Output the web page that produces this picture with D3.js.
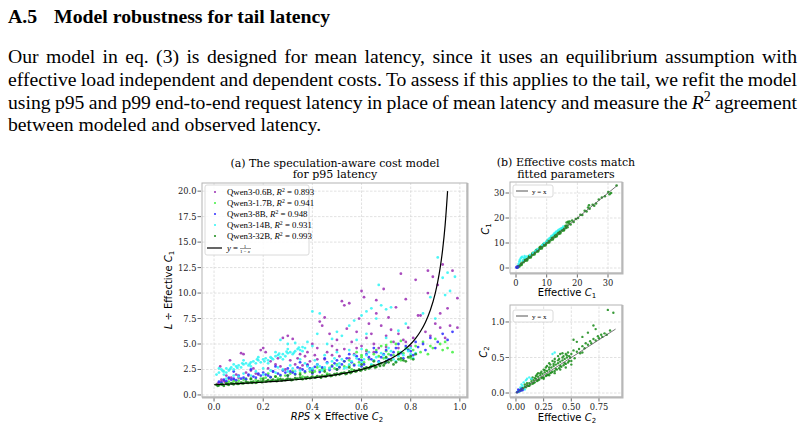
<!DOCTYPE html>
<html>
<head>
<meta charset="utf-8">
<script src="https://cdn.jsdelivr.net/npm/d3@7"></script>
<style>
  body { margin: 0; background: #fff; }
  svg { display: block; }
</style>
</head>
<body>
<svg id="page" width="804" height="427"></svg>
<script>
// ---- text of the page ----
const heading = ["A.5", "Model robustness for tail latency"];
const bodyLines = [
  "Our model in eq. (3) is designed for mean latency, since it uses an equilibrium assumption with",
  "effective load independent and dependent costs. To assess if this applies to the tail, we refit the model",
  "using p95 and p99 end-to-end request latency in place of mean latency and measure the ",
  "between modeled and observed latency."
];

// ---- panel (a): L / effective C1 vs RPS x effective C2 ----
const seriesNames = ["Qwen3-0.6B", "Qwen3-1.7B", "Qwen3-8B", "Qwen3-14B", "Qwen3-32B"];
const seriesR2 = ["0.893", "0.941", "0.948", "0.931", "0.993"];
const seriesColors = ["#9a2db3", "#3ff03f", "#2b2bff", "#2ef4f4", "#168a16"];

const q06 = [[0.02,1.2],[0.025,2.8],[0.03,1.5],[0.04,1.4],[0.05,1.9],[0.065,3.4],[0.07,1.7],[0.09,2.0],[0.11,4.1],
  [0.12,4.0],[0.13,2.2],[0.15,2.4],[0.17,2.1],[0.19,4.4],[0.2,4.6],[0.21,4.2],[0.22,2.6],[0.24,2.3],[0.25,3.0],
  [0.27,2.8],[0.28,5.6],[0.3,5.8],[0.31,3.4],[0.32,5.5],[0.33,3.0],[0.34,3.6],[0.35,4.0],[0.36,2.9],[0.37,3.8],
  [0.38,4.2],[0.39,3.3],[0.4,5.0],[0.41,3.9],[0.42,4.6],[0.43,7.2],[0.44,6.8],[0.45,3.5],[0.46,4.2],[0.47,6.0],
  [0.48,4.8],[0.5,5.4],[0.51,3.8],[0.52,9.2],[0.53,4.5],[0.54,6.5],[0.55,9.0],[0.56,5.2],[0.57,4.0],[0.58,6.2],
  [0.59,7.5],[0.6,10.2],[0.6,4.8],[0.61,9.6],[0.62,5.6],[0.63,7.0],[0.64,6.0],[0.65,5.0],[0.66,8.0],[0.67,4.6],
  [0.68,6.8],[0.69,10.4],[0.7,5.8],[0.71,7.6],[0.72,6.4],[0.73,5.2],[0.74,8.6],[0.75,6.0],[0.76,11.9],[0.77,5.4],
  [0.78,9.4],[0.79,6.6],[0.8,4.8],[0.81,5.6],[0.82,11.3],[0.83,7.8],[0.84,7.8],[0.87,12.2],[0.86,6.2],[0.87,10.0],
  [0.88,5.8],[0.89,11.6],[0.9,7.0],[0.91,10.8],[0.92,6.6],[0.93,12.8],[0.94,5.6],[0.95,8.5],[0.96,6.8],[0.97,12.2],
  [0.99,9.5],[0.99,6.6],[0.92,8.0],[0.66,9.3],[0.53,8.8],[0.45,7.6],[0.35,2.6],[0.55,3.6],[0.65,4.2],[0.75,4.6],
  [0.015,1.1],[0.03,1.3],[0.045,1.25],[0.06,1.6],[0.08,1.5],[0.1,1.7],[0.14,1.9],[0.16,2.6],[0.18,2.0],[0.23,3.3],
  [0.26,3.6],[0.29,2.5],[0.38,3.0],[0.42,3.5],[0.48,3.9],[0.5,4.4],[0.58,4.6],[0.62,4.3],[0.7,4.7],[0.78,5.2]];
const q17 = [[0.03,1.1],[0.06,1.3],[0.1,1.4],[0.13,1.6],[0.17,1.5],[0.21,1.7],[0.25,1.8],[0.29,1.9],[0.33,2.0],
  [0.37,2.2],[0.41,2.3],[0.45,2.5],[0.49,2.6],[0.53,2.8],[0.57,3.0],[0.61,3.2],[0.65,3.4],[0.69,3.6],[0.73,3.9],
  [0.77,4.1],[0.81,4.4],[0.5,3.0],[0.55,3.4],[0.6,3.7],[0.65,4.0],[0.7,4.3],[0.72,5.2],[0.74,5.0],[0.68,4.8],
  [0.62,4.4],[0.58,4.2],[0.85,5.2],[0.88,4.8],[0.9,5.5],[0.93,4.4],[0.95,4.6],[0.94,5.2],[0.84,4.2],[0.87,4.0],
  [0.78,4.6],[0.8,3.6],[0.76,3.4],[0.56,2.5],[0.46,2.1],[0.36,1.8],[0.26,1.6],[0.64,2.9],[0.42,2.7],[0.32,2.3],
  [0.22,2.1],
  [0.05,1.2],[0.08,1.35],[0.12,1.5],[0.15,1.55],[0.19,1.6],[0.23,1.75],[0.27,1.85],[0.31,2.1],[0.35,2.15],[0.39,2.3],
  [0.43,2.4],[0.47,2.65],[0.51,2.75],[0.55,2.9],[0.59,3.2],[0.63,3.5],[0.67,3.8],[0.71,4.0],[0.75,4.2],[0.79,4.5],
  [0.82,4.8],[0.66,4.4],[0.7,4.9],[0.76,5.3],[0.6,3.9],[0.53,3.3],[0.48,2.9],[0.44,2.6],[0.4,2.5],[0.97,4.2],
  [0.92,5.0],[0.89,4.6]];
const q8 = [[0.02,1.3],[0.04,1.5],[0.06,1.7],[0.08,1.6],[0.1,1.9],[0.12,1.7],[0.14,2.0],[0.16,1.8],[0.18,2.1],
  [0.2,2.2],[0.22,1.9],[0.24,2.3],[0.26,2.1],[0.28,2.4],[0.3,2.6],[0.32,2.2],[0.34,2.7],[0.36,2.5],[0.38,2.9],
  [0.4,2.4],[0.42,3.0],[0.44,2.7],[0.46,3.2],[0.48,2.8],[0.5,3.4],[0.52,3.0],[0.54,3.6],[0.56,3.2],[0.58,3.8],
  [0.6,3.4],[0.62,4.0],[0.64,3.5],[0.66,4.2],[0.68,3.7],[0.7,4.4],[0.72,3.9],[0.74,4.6],[0.76,4.1],[0.78,4.8],
  [0.8,4.3],[0.82,5.2],[0.85,5.0],[0.88,5.6],[0.9,4.6],[0.93,6.0],[0.95,5.4],[0.97,6.2],[0.08,2.3],[0.15,2.5],
  [0.25,2.8],[0.35,3.2],[0.45,3.6],[0.55,4.0],[0.65,4.6],[0.75,5.0],[0.7,3.2],[0.6,2.8],[0.5,2.5],[0.4,2.1],[0.3,1.9],
  [0.03,1.2],[0.05,1.35],[0.07,1.5],[0.09,1.45],[0.11,1.6],[0.13,1.55],[0.17,1.7],[0.19,1.9],[0.21,2.0],[0.23,1.75],
  [0.27,1.95],[0.29,2.2],[0.31,2.3],[0.33,2.05],[0.37,2.3],[0.39,2.6],[0.41,2.75],[0.43,2.25],[0.47,2.45],[0.49,3.1],
  [0.51,2.7],[0.53,3.3],[0.57,2.9],[0.59,3.5],[0.61,3.0],[0.63,3.7],[0.67,3.3],[0.69,4.0],[0.71,3.5],[0.73,4.2],
  [0.77,3.6],[0.79,4.4],[0.81,3.9],[0.83,4.7],[0.86,4.4],[0.91,5.2]];
const q14 = [[0.02,2.2],[0.03,2.5],[0.04,2.3],[0.05,2.6],[0.06,2.4],[0.07,2.7],[0.08,2.5],[0.09,2.8],[0.10,2.9],
  [0.11,2.7],[0.12,3.0],[0.13,3.1],[0.14,2.9],[0.15,3.2],[0.16,3.3],[0.17,3.1],[0.18,3.4],[0.19,3.2],[0.20,3.5],
  [0.21,3.6],[0.22,3.4],[0.23,3.7],[0.24,3.5],[0.25,3.8],[0.26,3.9],[0.27,3.7],[0.28,4.0],[0.29,3.8],[0.30,4.1],
  [0.31,4.2],[0.32,4.0],[0.33,4.3],[0.34,4.5],[0.35,4.4],[0.36,4.7],[0.37,4.6],[0.36,4.3],[0.12,3.4],[0.08,3.0],
  [0.18,3.7],[0.25,4.2],[0.30,4.5],[0.15,2.8],[0.22,3.1],[0.28,3.5],[0.05,2.2],
  [0.035,2.35],[0.065,2.55],[0.095,2.65],[0.115,3.1],[0.145,3.05],[0.175,3.5],[0.205,3.3],[0.235,3.6],[0.265,4.05],
  [0.295,4.25],[0.325,4.15],[0.345,4.65],[0.01,2.0],[0.02,2.6],[0.04,2.0],
  [0.05,1.6],[0.1,1.8],[0.15,1.9],[0.2,2.0],[0.25,2.2],[0.3,2.3],[0.35,2.4],[0.4,2.6],[0.45,2.7],[0.5,2.9],
  [0.55,3.0],[0.6,3.2],[0.65,3.4],[0.7,3.6],[0.75,3.8],[0.8,4.0],[0.42,3.0],[0.48,3.3],[0.52,3.5],[0.58,3.6],
  [0.62,3.9],[0.68,4.1],[0.72,4.3],[0.78,4.5],[0.44,2.4],[0.54,2.7],[0.64,3.0],[0.74,3.3],[0.38,2.8],[0.46,3.1],
  [0.56,3.3],[0.66,3.7],[0.76,4.2],[0.81,3.6],[0.32,2.6],[0.28,2.5],
  [0.31,2.9],[0.33,2.3],[0.37,3.1],[0.39,2.5],[0.41,3.4],[0.43,2.8],[0.47,2.6],[0.49,3.6],[0.51,3.1],[0.53,2.6],
  [0.57,3.9],[0.59,2.9],[0.61,3.5],[0.63,4.2],[0.67,3.2],[0.69,3.9],[0.71,4.6],[0.73,3.5],[0.77,3.9],[0.79,4.3],
  [0.8,4.6],[0.82,4.1],[0.2,2.6],[0.17,2.3],[0.12,2.1],[0.08,1.9],[0.23,2.4],[0.26,2.7],[0.35,3.5],[0.45,3.9],
  [0.5,4.2],[0.55,4.4],[0.6,4.5],
  [0.38,5.2],[0.42,6.0],[0.43,8.0],[0.40,8.2],[0.48,5.5],[0.5,6.2],[0.52,5.8],[0.55,6.8],[0.57,7.3],[0.6,7.8],
  [0.62,8.2],[0.64,8.5],[0.66,7.5],[0.68,8.8],[0.7,8.4],[0.72,8.6],[0.67,10.8],[0.58,5.4],[0.62,6.0],[0.7,5.6],
  [0.75,6.3],[0.78,7.0],[0.4,4.8],[0.46,5.0],[0.88,9.6],[0.91,13.5],[0.93,11.5],[0.95,12.0],[0.98,11.6],[0.96,10.2],
  [0.94,9.8],[0.85,8.0],[0.27,5.4],[0.33,5.1],[0.3,5.0],[0.9,7.5]];
const q32 = [[0.01,1.0],[0.02,0.95],[0.03,1.05],[0.04,0.9],[0.05,1.1],[0.06,1.0],[0.07,1.15],[0.08,1.05],[0.09,1.2],
  [0.10,1.1],[0.11,1.2],[0.12,1.15],[0.13,1.3],[0.14,1.2],[0.15,1.25],[0.16,1.3],[0.17,1.2],[0.18,1.35],[0.19,1.3],
  [0.20,1.4],[0.21,1.3],[0.22,1.45],[0.23,1.35],[0.24,1.5],[0.25,1.4],[0.26,1.45],[0.27,1.55],[0.28,1.5],[0.29,1.45],
  [0.30,1.6],[0.31,1.55],[0.32,1.5],[0.33,1.65],[0.34,1.6],[0.35,1.7],[0.36,1.55],[0.37,1.7],[0.38,1.75],[0.39,1.65],
  [0.40,1.8],[0.41,1.7],[0.42,1.85],[0.43,1.8],[0.44,1.9],[0.45,1.85],[0.46,1.95],[0.47,2.0],[0.48,1.9],[0.49,2.05],
  [0.50,2.1],[0.51,2.0],[0.52,2.15],[0.53,2.2],[0.54,2.1],[0.55,2.3],[0.56,2.25],[0.57,2.4],[0.58,2.35],[0.59,2.5],
  [0.60,2.45],[0.61,2.6],[0.62,2.7],[0.63,2.6],[0.64,2.8],[0.65,2.9],[0.66,2.75],[0.67,3.0],[0.68,3.1],[0.69,2.9],
  [0.70,3.3],[0.72,3.4],[0.74,3.2],[0.76,3.6],[0.78,3.3],[0.80,3.8],[0.82,4.0],
  [0.15,1.6],[0.25,1.8],[0.35,2.0],[0.45,2.3],[0.55,2.7],[0.65,3.3],[0.75,4.0],[0.5,2.5],[0.3,1.9],[0.2,1.6],
  [0.4,2.2],[0.6,3.0],[0.7,3.7],
  [0.015,0.9],[0.035,1.0],[0.055,1.05],[0.075,1.1],[0.095,1.1],[0.115,1.15],[0.135,1.2],[0.155,1.2],[0.175,1.25],
  [0.195,1.25],[0.215,1.35],[0.235,1.4],[0.255,1.35],[0.275,1.4],[0.295,1.5],[0.315,1.45],[0.335,1.55],[0.355,1.6],
  [0.375,1.6],[0.395,1.7],[0.415,1.75],[0.435,1.7],[0.455,1.8],[0.475,1.85],[0.495,1.95],[0.515,2.1],[0.535,2.05],
  [0.555,2.15],[0.575,2.3],[0.595,2.4],[0.615,2.5],[0.635,2.7],[0.655,2.7],[0.675,2.85],[0.695,3.1],[0.71,3.2],
  [0.73,3.0],[0.75,3.5],[0.77,3.4],[0.79,3.7],[0.81,3.5]];
const panelA = [q06, q17, q8, q14, q32];
// model curve y = 1/(1-x), sampled on these x
const curveX = [0, 0.1, 0.2, 0.3, 0.4, 0.5, 0.55, 0.6, 0.65, 0.7, 0.74, 0.78, 0.8, 0.82, 0.84, 0.86, 0.88, 0.9, 0.91, 0.92, 0.93, 0.94, 0.95];

// ---- panel (b): fitted vs effective costs ----
const c1Green = [[0.5,0.6],[0.8,0.7],[1.0,1.2],[1.3,1.1],[1.6,1.8],[1.9,1.7],[2.2,2.4],[2.5,2.3],[2.8,3.0],[3.1,2.9],
  [3.4,3.6],[3.7,3.5],[4.0,4.3],[4.3,4.1],[4.6,4.8],[4.9,4.7],[5.2,5.5],[5.5,5.3],[5.8,6.1],[6.1,5.9],[6.4,6.7],
  [6.7,6.5],[7.0,7.3],[7.3,7.1],[7.6,7.9],[7.9,7.7],[8.2,8.6],[8.5,8.3],[8.8,9.2],[9.1,8.9],[9.4,9.8],[9.7,9.5],
  [10.0,10.4],[10.3,10.1],[10.6,11.0],[10.9,10.7],[11.2,11.6],[11.5,11.2],[11.8,12.3],[12.1,11.9],[12.4,12.9],
  [12.7,12.4],[13.0,13.5],[13.3,13.0],[13.6,14.1],[13.9,13.6],[14.2,14.7],[14.5,14.3],[14.8,15.3],[15.1,14.9],
  [15.4,15.9],[15.7,15.4],[16.0,16.6],[16.3,16.0],[16.7,17.0],[17.2,17.8],[17.5,18.6],[17.8,17.4],[18.3,19.0],
  [18.8,18.4],[19.5,19.6],[20.2,20.0],[21.0,21.3],[21.6,21.2],[22.4,22.9],[23.0,22.6],[23.5,24.2],[24.0,23.7],
  [25.0,25.3],[26.1,25.8],[27.0,27.4],[28.0,28.2],[29.0,28.7],[30.1,30.4],[31.0,30.0],[32.8,33.0],[30.5,29.5],
  [16.5,18.2],[17.0,18.5],[23.8,25.1],[25.5,24.9],
  [0.6,0.2],[1.1,0.6],[1.8,1.2],[2.4,2.9],[3.0,3.5],[3.6,3.0],[4.2,4.8],[4.8,4.2],[5.4,6.0],[6.0,5.4],[6.6,7.2],
  [7.2,6.6],[7.8,8.4],[8.4,7.8],[9.0,9.6],[9.6,9.0],[10.2,10.9],[10.8,10.2],[11.4,12.1],[12.0,11.4],[12.6,13.3],
  [13.2,12.6],[13.8,14.5],[14.4,13.8],[15.0,15.7],[15.6,15.0],[16.2,16.9],[16.8,16.3]];
const c1Cyan = [[1.0,2.5],[1.5,3.8],[2.0,4.5],[2.5,4.0],[1.2,3.2],[3.0,4.2],[3.5,4.6],[4.5,5.2],[5.5,6.0],[7.0,7.6],
  [8.5,9.2],[10.0,10.8],[11.0,12.0],[12.0,13.2],[12.8,14.0],[13.5,14.8],[14.2,15.5],[15.0,16.0],[13.0,14.5],
  [14.6,15.8],[11.5,12.8],[9.2,10.0],[6.3,6.9],[0.8,1.6],[2.2,3.0],[1.7,4.2],[2.8,4.8],[1.3,2.8],[12.4,13.8],
  [13.8,15.2],[15.4,16.6],[10.6,11.6]];
const c1Blue = [[0.1,0.2],[0.3,0.1],[0.5,0.4],[0.2,0.5],[0.7,0.6],[0.4,0.3]];

const c2Green = [[0.01,0.01],[0.02,0.03],[0.03,0.02],[0.04,0.05],[0.05,0.04],[0.06,0.07],[0.07,0.06],[0.08,0.09],
  [0.09,0.08],[0.10,0.11],[0.11,0.10],[0.12,0.14],[0.13,0.12],[0.14,0.16],[0.15,0.13],[0.16,0.18],[0.17,0.15],
  [0.18,0.20],[0.19,0.17],[0.20,0.23],[0.21,0.19],[0.22,0.25],[0.23,0.21],[0.24,0.27],[0.25,0.22],[0.26,0.29],
  [0.27,0.24],[0.28,0.31],[0.29,0.26],[0.30,0.33],[0.31,0.28],[0.32,0.36],[0.33,0.30],[0.34,0.38],[0.35,0.31],
  [0.36,0.40],[0.37,0.33],[0.38,0.42],[0.39,0.35],[0.40,0.44],[0.41,0.37],[0.42,0.46],[0.43,0.39],[0.44,0.48],
  [0.45,0.41],[0.46,0.50],[0.47,0.43],[0.48,0.45],
  [0.15,0.22],[0.2,0.28],[0.25,0.33],[0.28,0.38],[0.3,0.42],[0.33,0.45],[0.35,0.48],[0.38,0.52],[0.4,0.55],
  [0.42,0.56],[0.45,0.55],[0.48,0.52],[0.5,0.55],[0.52,0.6],[0.55,0.58],[0.57,0.62],[0.6,0.66],[0.62,0.63],
  [0.63,0.7],[0.65,0.68],[0.67,0.73],[0.68,0.7],[0.7,0.76],[0.72,0.74],[0.74,0.8],[0.75,0.77],[0.77,0.82],
  [0.78,0.79],[0.8,0.84],[0.82,0.82],[0.85,0.88],[0.83,1.17],[0.88,1.13],[0.52,0.75],[0.55,0.72],[0.6,0.79],
  [0.65,0.85],[0.7,0.95],[0.72,0.9],[0.5,0.45],[0.53,0.49],[0.58,0.56],[0.6,0.57],
  [0.3,0.25],[0.35,0.28],[0.4,0.33],[0.45,0.36],[0.5,0.4],[0.25,0.2],
  [0.05,0.07],[0.08,0.12],[0.1,0.14],[0.12,0.1],[0.14,0.19],[0.16,0.14],[0.18,0.24],[0.2,0.18],[0.22,0.28],
  [0.24,0.22],[0.26,0.32],[0.28,0.25],[0.3,0.36],[0.32,0.29],[0.34,0.41],[0.36,0.34],[0.38,0.46],[0.4,0.38],
  [0.42,0.5],[0.44,0.42],[0.46,0.53],[0.27,0.36],[0.23,0.3],[0.19,0.26],[0.17,0.21],[0.31,0.4],[0.35,0.44],
  [0.39,0.48],[0.43,0.52],[0.47,0.57],[0.49,0.5]];
const c2Cyan = [[0.02,0.04],[0.04,0.08],[0.05,0.12],[0.07,0.15],[0.06,0.1],[0.09,0.18],[0.1,0.2],[0.12,0.22],
  [0.08,0.05],[0.03,0.02],[0.35,0.57],[0.33,0.55],[0.14,0.2]];
const c2Blue = [[0.01,0.01],[0.02,0.02],[0.03,0.04],[0.04,0.03],[0.05,0.06],[0.02,0.05],[0.06,0.04]];

const ticksA_x = [0, 0.2, 0.4, 0.6, 0.8, 1.0];
const ticksA_y = [0, 2.5, 5, 7.5, 10, 12.5, 15, 17.5, 20];
const ticksB1 = [0, 10, 20, 30];
const ticksB2_x = [0, 0.25, 0.5, 0.75];
const ticksB2_y = [0, 0.5, 1.0];

const svg = d3.select("#page");
svg.append("rect").attr("width", 804).attr("height", 427).attr("fill", "#fff");

const times = "'Liberation Serif', 'Times New Roman', serif";
const dserif = "'DejaVu Serif', serif";
const dsans = "'DejaVu Sans', sans-serif";

// heading
svg.append("text").attr("x", 8).attr("y", 23)
  .attr("font-family", times).attr("font-weight", "bold").attr("font-size", 19.8)
  .text(heading[0]);
svg.append("text").attr("x", 54).attr("y", 23)
  .attr("font-family", times).attr("font-weight", "bold").attr("font-size", 19.8)
  .text(heading[1]);

// body paragraph, justified
const lineY = [63, 86, 109, 131];
bodyLines.forEach(function(s, i) {
  const t = svg.append("text").attr("x", 8).attr("y", lineY[i])
    .attr("font-family", times).attr("font-size", 19.7).attr("fill", "#000");
  t.append("tspan").text(s);
  if (i === 2) {
    t.append("tspan").attr("font-style", "italic").text("R");
    t.append("tspan").attr("font-size", 14).attr("dy", -8).text("2");
    t.append("tspan").attr("dy", 8).text(" agreement");
  }
  if (i < 3) {
    const n = t.text().split(" ").length - 1;
    const len = t.node().getComputedTextLength();
    t.attr("word-spacing", (789 - len) / n);
  }
});

function frame(g, x, y, xt, yt, fx, fy) {
  const [x0, x1] = x.range(), [y0, y1] = y.range();
  const grid = g.append("g").attr("stroke", "#d4d4d4").attr("stroke-width", 0.7).attr("stroke-dasharray", "2.5,1.5");
  grid.selectAll(null).data(xt).enter().append("line")
    .attr("x1", d => x(d)).attr("x2", d => x(d)).attr("y1", y0).attr("y2", y1);
  grid.selectAll(null).data(yt).enter().append("line")
    .attr("y1", d => y(d)).attr("y2", d => y(d)).attr("x1", x0).attr("x2", x1);
  const ax = g.append("g").attr("font-family", dserif).attr("font-size", 8.3).attr("fill", "#222");
  ax.selectAll(null).data(xt).enter().append("line")
    .attr("x1", d => x(d)).attr("x2", d => x(d)).attr("y1", y0 + 1).attr("y2", y0 + 4.5)
    .attr("stroke", "#444").attr("stroke-width", 0.8);
  ax.selectAll(null).data(xt).enter().append("text")
    .attr("x", d => x(d)).attr("y", y0 + 13).attr("text-anchor", "middle").text(fx);
  ax.selectAll(null).data(yt).enter().append("line")
    .attr("y1", d => y(d)).attr("y2", d => y(d)).attr("x1", x0 - 1).attr("x2", x0 - 4.5)
    .attr("stroke", "#444").attr("stroke-width", 0.8);
  ax.selectAll(null).data(yt).enter().append("text")
    .attr("x", x0 - 5.5).attr("y", d => y(d) + 3).attr("text-anchor", "end").text(fy);
}

function border(g, x, y) {
  const [x0, x1] = x.range(), [y0, y1] = y.range();
  g.append("rect").attr("x", x0).attr("y", y1).attr("width", x1 - x0).attr("height", y0 - y1)
    .attr("fill", "none").attr("stroke", "#b4b4b4").attr("stroke-width", 1);
  g.append("path").attr("d", `M${x1 + 0.5},${y1} V${y0 + 0.5} H${x0}`)
    .attr("fill", "none").attr("stroke", "#b8b8b8").attr("stroke-width", 2);
}

function dots(g, data, x, y, color, r) {
  g.append("g").selectAll("circle").data(data).enter().append("circle")
    .attr("cx", d => x(d[0])).attr("cy", d => y(d[1])).attr("r", r)
    .attr("fill", color).attr("fill-opacity", 0.85);
}

// ---------- panel (a) ----------
const xA = d3.scaleLinear().domain([-0.049, 1.029]).range([202, 467]);
const yA = d3.scaleLinear().domain([-0.2, 20.8]).range([397, 183]);
const gA = svg.append("g");
frame(gA, xA, yA, ticksA_x, ticksA_y, d3.format(".1f"), d3.format(".1f"));
panelA.forEach((s, i) => dots(gA, s, xA, yA, seriesColors[i], 1.4));
const curve = d3.line().x(d => xA(d)).y(d => yA(1 / (1 - d))).curve(d3.curveMonotoneX);
gA.append("path").attr("d", curve(curveX)).attr("fill", "none").attr("stroke", "#000").attr("stroke-width", 1.2);
border(gA, xA, yA);

gA.append("text").attr("x", 335).attr("y", 166.5).attr("text-anchor", "middle")
  .attr("font-family", dserif).attr("font-size", 11).text("(a) The speculation-aware cost model");
gA.append("text").attr("x", 335).attr("y", 178).attr("text-anchor", "middle")
  .attr("font-family", dserif).attr("font-size", 11).text("for p95 latency");

const xlabA = gA.append("text").attr("x", 337).attr("y", 420).attr("text-anchor", "middle")
  .attr("font-family", dsans).attr("font-size", 10);
xlabA.append("tspan").attr("font-style", "italic").text("RPS");
xlabA.append("tspan").text(" × Effective ");
xlabA.append("tspan").attr("font-style", "italic").text("C");
xlabA.append("tspan").attr("font-size", 7).attr("dy", 2).text("2");

const ylabA = gA.append("text").attr("transform", "translate(172,290) rotate(-90)").attr("text-anchor", "middle")
  .attr("font-family", dsans).attr("font-size", 10);
ylabA.append("tspan").attr("font-style", "italic").text("L");
ylabA.append("tspan").text(" ÷ Effective ");
ylabA.append("tspan").attr("font-style", "italic").text("C");
ylabA.append("tspan").attr("font-size", 7).attr("dy", 2).text("1");

// legend (a)
const lg = gA.append("g");
lg.append("rect").attr("x", 205).attr("y", 185).attr("width", 104).attr("height", 70).attr("rx", 2)
  .attr("fill", "#fff").attr("fill-opacity", 0.85).attr("stroke", "#d0d0d0").attr("stroke-width", 0.8);
seriesNames.forEach(function(n, i) {
  const yy = 192 + i * 11;
  lg.append("circle").attr("cx", 215).attr("cy", yy).attr("r", 1).attr("fill", seriesColors[i]);
  const t = lg.append("text").attr("x", 227).attr("y", yy + 3).attr("font-family", times).attr("font-size", 8.8);
  t.append("tspan").text(n + ", ");
  t.append("tspan").attr("font-style", "italic").text("R");
  t.append("tspan").attr("font-size", 5.8).attr("dy", -3).text("2");
  t.append("tspan").attr("dy", 3).text(" = " + seriesR2[i]);
});
lg.append("line").attr("x1", 207).attr("x2", 222).attr("y1", 248).attr("y2", 248).attr("stroke", "#000").attr("stroke-width", 1.2);
lg.append("text").attr("x", 227).attr("y", 251).attr("font-family", times).attr("font-size", 8.8)
  .append("tspan").attr("font-style", "italic").text("y").append("tspan").attr("font-style", "normal").text(" = ");
lg.append("text").attr("x", 245).attr("y", 247.5).attr("text-anchor", "middle").attr("font-family", times).attr("font-size", 5).text("1");
lg.append("line").attr("x1", 240).attr("x2", 251).attr("y1", 248.5).attr("y2", 248.5).attr("stroke", "#000").attr("stroke-width", 0.4);
lg.append("text").attr("x", 245).attr("y", 253).attr("text-anchor", "middle").attr("font-family", times).attr("font-size", 5)
  .append("tspan").text("1 − ").append("tspan").attr("font-style", "italic").text("x");

// ---------- panel (b) ----------
svg.append("text").attr("x", 566).attr("y", 166).attr("text-anchor", "middle")
  .attr("font-family", dserif).attr("font-size", 11).text("(b) Effective costs match");
svg.append("text").attr("x", 566).attr("y", 178).attr("text-anchor", "middle")
  .attr("font-family", dserif).attr("font-size", 11).text("fitted parameters");

function smallLegend(g, x0, y0) {
  g.append("rect").attr("x", x0).attr("y", y0).attr("width", 40).attr("height", 12).attr("rx", 2)
    .attr("fill", "#fff").attr("stroke", "#d0d0d0").attr("stroke-width", 0.8);
  g.append("line").attr("x1", x0 + 3).attr("x2", x0 + 15).attr("y1", y0 + 6).attr("y2", y0 + 6)
    .attr("stroke", "#555").attr("stroke-width", 1);
  g.append("text").attr("x", x0 + 19).attr("y", y0 + 8.5).attr("font-family", times).attr("font-size", 7).text("y = x");
}

const xB1 = d3.scaleLinear().domain([-1.96, 34.56]).range([510, 622]);
const yB1 = d3.scaleLinear().domain([-2, 34.4]).range([273, 182]);
const gB1 = svg.append("g");
frame(gB1, xB1, yB1, ticksB1, ticksB1, d3.format("d"), d3.format("d"));
dots(gB1, c1Green, xB1, yB1, seriesColors[4], 1.3);
dots(gB1, c1Cyan, xB1, yB1, seriesColors[3], 1.2);
dots(gB1, c1Blue, xB1, yB1, seriesColors[2], 1.2);
gB1.append("line").attr("x1", xB1(0)).attr("y1", yB1(0)).attr("x2", xB1(33)).attr("y2", yB1(33))
  .attr("stroke", "#555").attr("stroke-width", 0.8);
border(gB1, xB1, yB1);
smallLegend(gB1, 513, 185);
const lb1 = gB1.append("text").attr("x", 567).attr("y", 296).attr("text-anchor", "middle")
  .attr("font-family", dsans).attr("font-size", 10);
lb1.append("tspan").text("Effective ");
lb1.append("tspan").attr("font-style", "italic").text("C");
lb1.append("tspan").attr("font-size", 7).attr("dy", 2).text("1");
const lb1y = gB1.append("text").attr("transform", "translate(489,229) rotate(-90)").attr("text-anchor", "middle")
  .attr("font-family", dsans).attr("font-size", 10);
lb1y.append("tspan").attr("font-style", "italic").text("C");
lb1y.append("tspan").attr("font-size", 7).attr("dy", 2).text("1");

const xB2 = d3.scaleLinear().domain([-0.054, 0.958]).range([510, 622]);
const yB2 = d3.scaleLinear().domain([-0.056, 1.239]).range([397, 305]);
const gB2 = svg.append("g");
frame(gB2, xB2, yB2, ticksB2_x, ticksB2_y, d3.format(".2f"), d3.format(".1f"));
dots(gB2, c2Green, xB2, yB2, seriesColors[4], 1.2);
dots(gB2, c2Cyan, xB2, yB2, seriesColors[3], 1.2);
dots(gB2, c2Blue, xB2, yB2, seriesColors[2], 1.2);
gB2.append("line").attr("x1", xB2(0)).attr("y1", yB2(0)).attr("x2", xB2(0.9)).attr("y2", yB2(0.9))
  .attr("stroke", "#555").attr("stroke-width", 0.8);
border(gB2, xB2, yB2);
smallLegend(gB2, 513, 310);
const lb2 = gB2.append("text").attr("x", 567).attr("y", 421).attr("text-anchor", "middle")
  .attr("font-family", dsans).attr("font-size", 10);
lb2.append("tspan").text("Effective ");
lb2.append("tspan").attr("font-style", "italic").text("C");
lb2.append("tspan").attr("font-size", 7).attr("dy", 2).text("2");
const lb2y = gB2.append("text").attr("transform", "translate(487,352) rotate(-90)").attr("text-anchor", "middle")
  .attr("font-family", dsans).attr("font-size", 10);
lb2y.append("tspan").attr("font-style", "italic").text("C");
lb2y.append("tspan").attr("font-size", 7).attr("dy", 2).text("2");
</script>
</body>
</html>
